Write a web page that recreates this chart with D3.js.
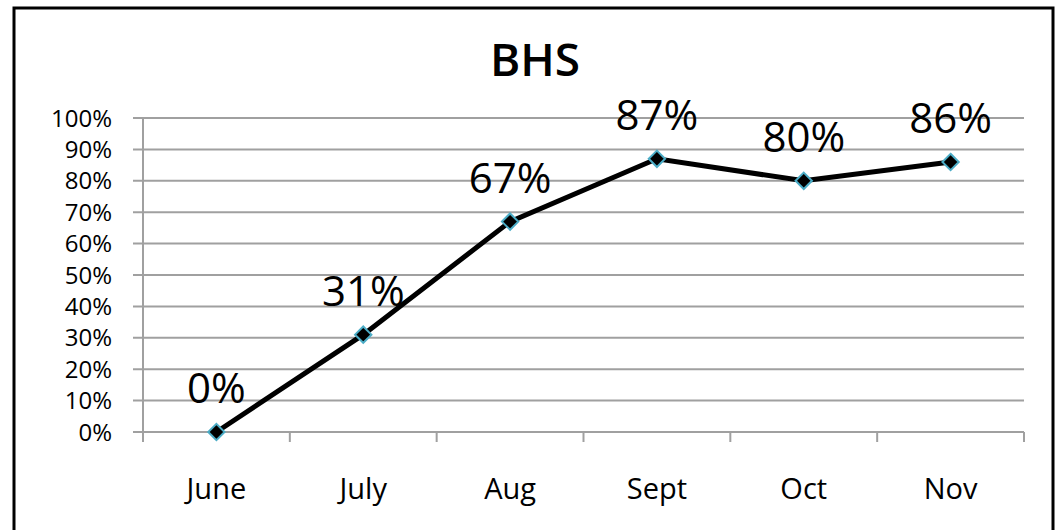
<!DOCTYPE html>
<meta charset="utf-8">
<style>
body { margin: 0; background: #fff; }
svg { font-family: "Open Sans", sans-serif; }
.grid line { stroke: #a0a0a0; stroke-width: 2px; }
.line { fill: none; stroke: #000; stroke-width: 5px; }
</style>
<svg width="1057" height="530"></svg>
<script src="https://d3js.org/d3.v7.min.js"></script>
<script>

const months = ["June", "July", "Aug", "Sept", "Oct", "Nov"];
const values = [0, 0.31, 0.67, 0.87, 0.80, 0.86];
const yTicks = [0, 0.1, 0.2, 0.3, 0.4, 0.5, 0.6, 0.7, 0.8, 0.9, 1.0];

var svg = d3.select("svg");

// outer frame
svg.append("rect")
  .attr("x", 14).attr("y", 8)
  .attr("width", 1039).attr("height", 540)
  .attr("fill", "none").attr("stroke", "#000").attr("stroke-width", 3);

var plotL = 143, plotR = 1024, plotT = 118, plotB = 432;

var x = d3.scaleBand().domain(months).range([plotL, plotR]);
var y = d3.scaleLinear().domain([0, 1]).range([plotB, plotT]);

// gridlines
svg.append("g").attr("class", "grid")
  .selectAll("line").data(yTicks).enter().append("line")
    .attr("x1", plotL - 10).attr("x2", plotR)
    .attr("y1", function(d) { return y(d); })
    .attr("y2", function(d) { return y(d); });

// axes lines
var ax = svg.append("g").attr("class", "grid");
ax.append("line").attr("x1", plotL).attr("x2", plotL).attr("y1", plotT).attr("y2", plotB + 10);
ax.selectAll("line.tick").data(months).enter().append("line")
  .attr("class", "tick")
  .attr("x1", function(d) { return x(d) + x.bandwidth(); })
  .attr("x2", function(d) { return x(d) + x.bandwidth(); })
  .attr("y1", plotB).attr("y2", plotB + 10);

// y labels
svg.selectAll("text.ylab").data(yTicks).enter().append("text")
  .attr("class", "ylab")
  .attr("x", 112)
  .attr("y", function(d) { return y(d) + 8.5; })
  .attr("text-anchor", "end")
  .style("font-size", "24px")
  .text(function(d) { return d3.format(".0%")(d); });

// x labels
svg.selectAll("text.xlab").data(months).enter().append("text")
  .attr("class", "xlab")
  .attr("x", function(d) { return x(d) + x.bandwidth() / 2; })
  .attr("y", 499)
  .attr("text-anchor", "middle")
  .style("font-size", "29px")
  .text(function(d) { return d; });

// title
svg.append("text")
  .attr("x", 535).attr("y", 76)
  .attr("text-anchor", "middle")
  .style("font-size", "46px")
  .style("font-weight", 600)
  .text("BHS");

var pts = months.map(function(m, i) { return { m: m, v: values[i] }; });

var line = d3.line()
  .x(function(d) { return x(d.m) + x.bandwidth() / 2; })
  .y(function(d) { return y(d.v); });

svg.append("path").datum(pts).attr("class", "line").attr("d", line);

svg.selectAll("path.mark").data(pts).enter().append("path")
  .attr("class", "mark")
  .attr("d", d3.symbol().type(d3.symbolDiamond2).size(170))
  .attr("transform", function(d) {
    return "translate(" + (x(d.m) + x.bandwidth() / 2) + "," + y(d.v) + ")";
  })
  .attr("fill", "#000")
  .attr("stroke", "#4BACC6")
  .attr("stroke-width", 2);

svg.selectAll("text.dlab").data(pts).enter().append("text")
  .attr("class", "dlab")
  .attr("x", function(d) { return x(d.m) + x.bandwidth() / 2; })
  .attr("y", function(d) { return y(d.v) - 29; })
  .attr("text-anchor", "middle")
  .style("font-size", "42px")
  .text(function(d) { return d3.format(".0%")(d.v); });

</script>
